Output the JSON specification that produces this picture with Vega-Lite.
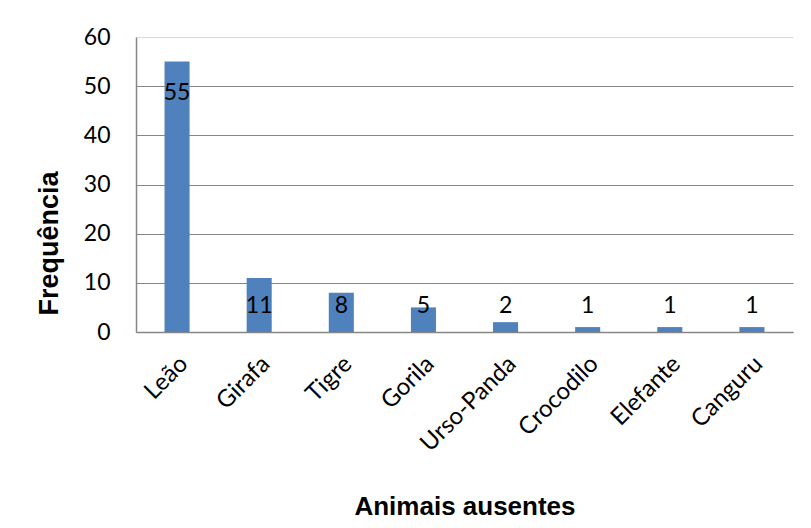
{
  "$schema": "https://vega.github.io/schema/vega-lite/v6.json",
  "width": 657,
  "height": 295,
  "autosize": "none",
  "padding": {"left": 136, "top": 37, "right": 18, "bottom": 196},
  "background": "white",
  "data": {
    "values": [
      {"animal": "Leão", "freq": 55},
      {"animal": "Girafa", "freq": 11},
      {"animal": "Tigre", "freq": 8},
      {"animal": "Gorila", "freq": 5},
      {"animal": "Urso-Panda", "freq": 2},
      {"animal": "Crocodilo", "freq": 1},
      {"animal": "Elefante", "freq": 1},
      {"animal": "Canguru", "freq": 1}
    ]
  },
  "encoding": {
    "x": {
      "field": "animal",
      "type": "nominal",
      "sort": null,
      "scale": {"paddingInner": 0.695, "paddingOuter": 0.3475},
      "axis": {
        "title": "Animais ausentes",
        "titleFont": "Liberation Sans",
        "titleFontWeight": "bold",
        "titleFontSize": 26,
        "titleColor": "#000000",
        "titleY": 182,
        "titleBaseline": "alphabetic",
        "labelAngle": -45,
        "labelAlign": "right",
        "labelBaseline": "middle",
        "labelPadding": 28,
        "labelOffset": 7,
        "labelFont": "Lato",
        "labelFontSize": 24,
        "labelColor": "#000000",
        "ticks": false,
        "domainColor": "#868686",
        "domainWidth": 1.5,
        "grid": false
      }
    }
  },
  "layer": [
    {
      "mark": {"type": "bar", "color": "#4F81BD"},
      "encoding": {
        "y": {
          "field": "freq",
          "type": "quantitative",
          "scale": {"domain": [0, 60], "nice": false},
          "axis": {
            "title": "Frequência",
            "titleFont": "Liberation Sans",
            "titleFontWeight": "bold",
            "titleFontSize": 27,
            "titleColor": "#000000",
            "titleAngle": -90,
            "titleX": -87,
            "titleY": 206,
            "titleAlign": "center",
            "titleBaseline": "middle",
            "values": [0, 10, 20, 30, 40, 50, 60],
            "labelFont": "Lato",
            "labelFontSize": 23,
            "labelColor": "#000000",
            "labelPadding": 26,
            "ticks": false,
            "domainColor": "#868686",
            "domainWidth": 1.5,
            "grid": true,
            "gridColor": {"condition": {"test": "datum.value === 60", "value": "#d9d9d9"}, "value": "#868686"},
            "gridWidth": 1.2
          }
        }
      }
    },
    {
      "transform": [{"filter": "datum.freq >= 12"}],
      "mark": {"type": "text", "dy": 31, "font": "Lato", "fontSize": 23, "color": "#000000", "baseline": "middle"},
      "encoding": {
        "y": {"field": "freq", "type": "quantitative"},
        "text": {"field": "freq", "type": "quantitative"}
      }
    },
    {
      "transform": [{"filter": "datum.freq < 12"}],
      "mark": {"type": "text", "font": "Lato", "fontSize": 23, "color": "#000000", "baseline": "middle"},
      "encoding": {
        "y": {"datum": 5.3, "type": "quantitative"},
        "text": {"field": "freq", "type": "quantitative"}
      }
    }
  ],
  "config": {"view": {"stroke": null}}
}
